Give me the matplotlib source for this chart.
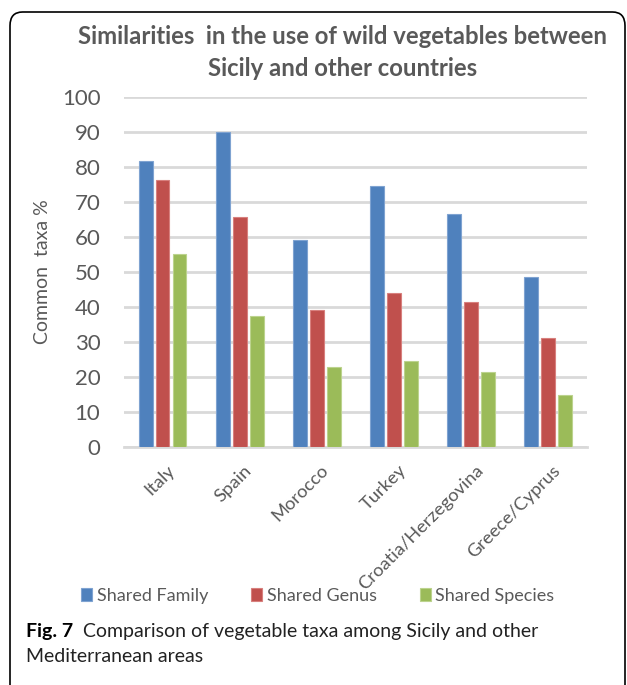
import matplotlib.pyplot as plt
import numpy as np
from matplotlib.patches import FancyBboxPatch

countries = ["Italy", "Spain", "Morocco", "Turkey", "Croatia/Herzegovina", "Greece/Cyprus"]
shared_family = [81.7, 89.8, 59.1, 74.5, 66.4, 48.6]
shared_genus = [76.1, 65.6, 39.0, 43.8, 41.4, 31.0]
shared_species = [55.1, 37.3, 22.9, 24.4, 21.3, 14.8]

series_names = ["Shared Family", "Shared Genus", "Shared Species"]
colors = ["#4F81BD", "#C0504D", "#9BBB59"]
edges = ["#7FA3D1", "#D8807E", "#BCD38E"]

plt.rcParams["font.family"] = ["Lato", "DejaVu Sans"]
grey = "#595959"

W, H = 627, 685
fig = plt.figure(figsize=(W / 100, H / 100), dpi=100)

# rounded frame, open at the bottom
frame = FancyBboxPatch((10 / W, -0.05), 615 / W, 1 - 12 / H + 0.05,
                       boxstyle="round,pad=0,rounding_size=0.02",
                       transform=fig.transFigure, fill=False,
                       edgecolor="black", linewidth=1.2, clip_on=False)
fig.patches.append(frame)

ax = fig.add_axes([124 / W, 1 - 446.7 / H, 462.7 / W, 350 / H])

x = np.arange(len(countries))
width = 0.18
step = 0.22
for i, (vals, name) in enumerate(zip([shared_family, shared_genus, shared_species], series_names)):
    ax.bar(x + (i - 1) * step, vals, width, color=colors[i], edgecolor=edges[i],
           linewidth=0.8, label=name, zorder=3)

ax.set_xlim(-0.5, len(countries) - 0.5)
ax.set_ylim(0, 100)
ax.set_yticks(range(0, 101, 10))
ax.yaxis.grid(True, color="#D9D9D9", linewidth=2, zorder=0)
for s in ["top", "right", "left"]:
    ax.spines[s].set_visible(False)
ax.spines["bottom"].set_color("#D9D9D9")
ax.spines["bottom"].set_linewidth(2)
ax.tick_params(axis="y", length=0, pad=17, labelsize=16, labelcolor=grey)
ax.tick_params(axis="x", length=0, pad=11, labelsize=13.2, labelcolor=grey)
ax.set_xticks(x + 0.05)
ax.set_xticklabels(countries, rotation=45, ha="right", rotation_mode="anchor")
ax.set_ylabel("Common  taxa %", fontsize=14, color=grey)
ax.yaxis.set_label_coords((51 - 124) / 462.7, 0.5)

fig.text(343 / W, 1 - 37 / H, "Similarities  in the use of wild vegetables between",
         ha="center", va="center", fontsize=17.2, fontweight="bold", color=grey)
fig.text(343 / W, 1 - 68 / H, "Sicily and other countries",
         ha="center", va="center", fontsize=17.2, fontweight="bold", color=grey)

leg = fig.legend(loc="center", bbox_to_anchor=(318 / W, 1 - 596 / H), ncol=3,
                 frameon=False, fontsize=13, handlelength=0.6, handleheight=0.75,
                 handletextpad=0.25, columnspacing=2.4)
for t in leg.get_texts():
    t.set_color(grey)

fig.text(26 / W, 1 - 632 / H, "Fig. 7", ha="left", va="center",
         fontsize=14, fontweight="bold", color="black")
fig.text(83 / W, 1 - 632 / H, "Comparison of vegetable taxa among Sicily and other",
         ha="left", va="center", fontsize=14, color="#222222")
fig.text(26 / W, 1 - 657 / H, "Mediterranean areas", ha="left", va="center",
         fontsize=14, color="#222222")

fig.savefig("out.png", dpi=100)
